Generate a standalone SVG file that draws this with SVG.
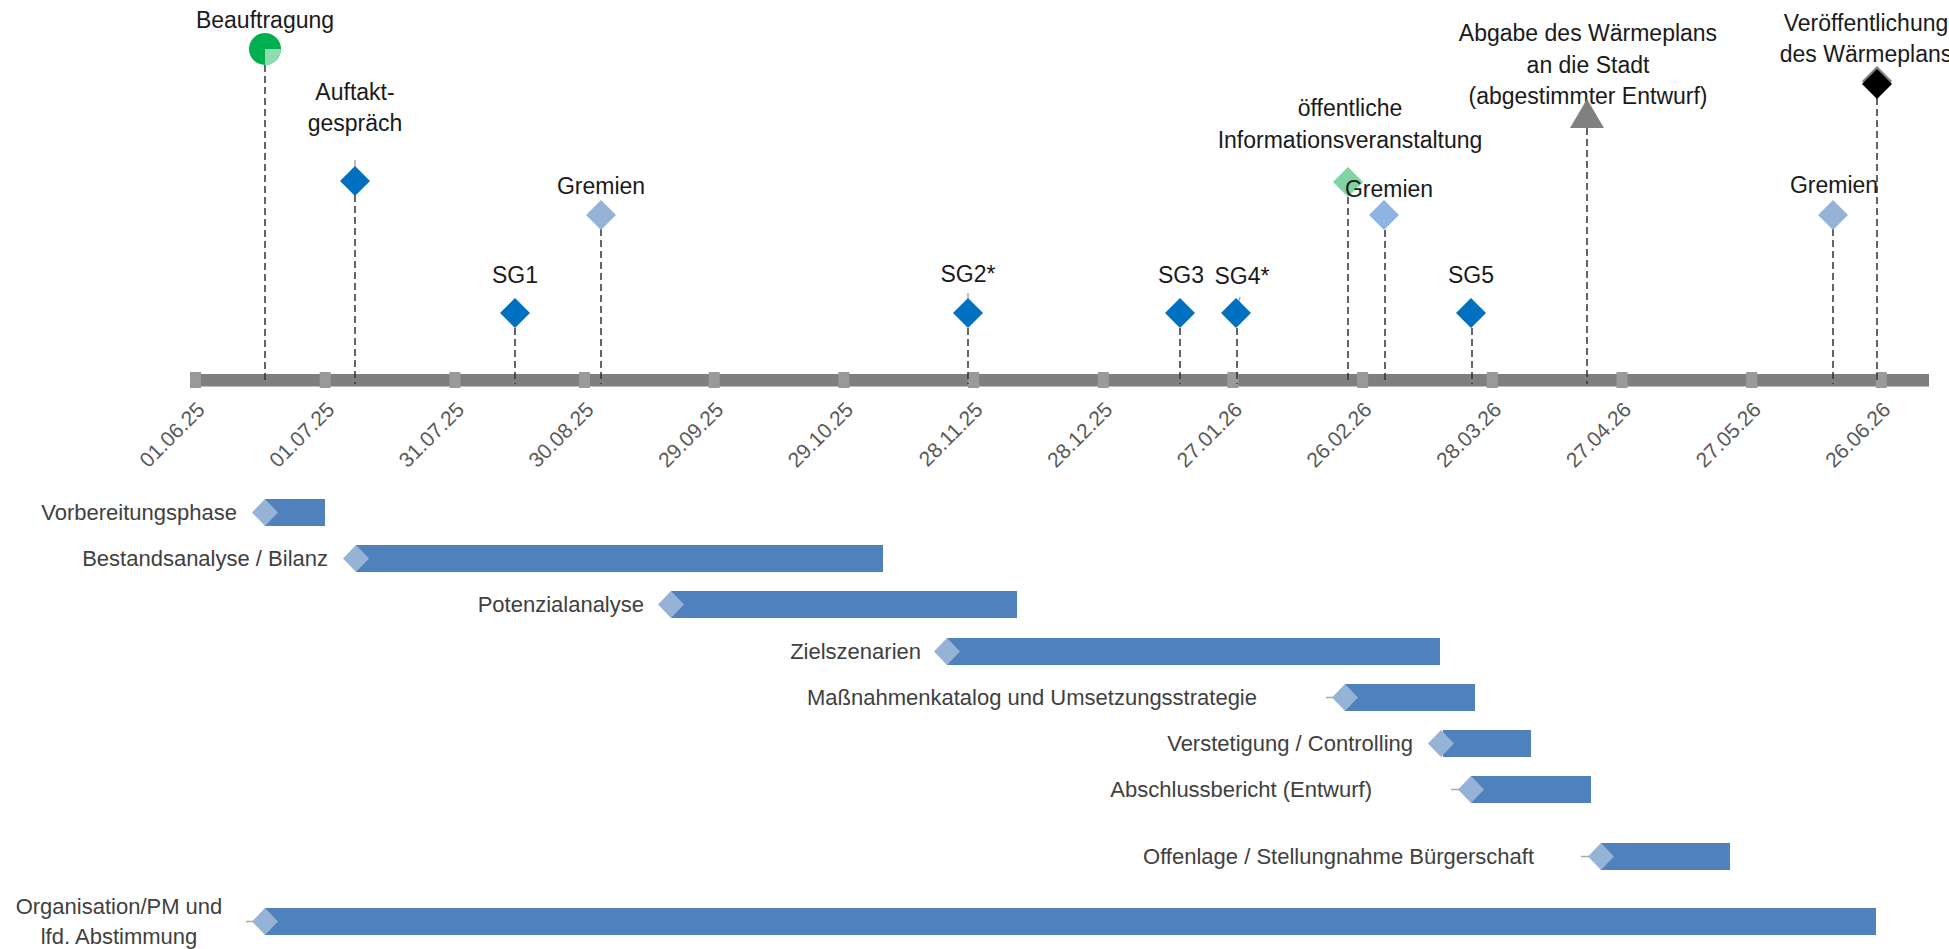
<svg xmlns="http://www.w3.org/2000/svg" width="1949" height="949" viewBox="0 0 1949 949">
<style>
.top{font-family:"Liberation Sans",Arial,sans-serif;font-size:23px;fill:#1a1a1a;text-anchor:middle}
.lbl{font-family:"Liberation Sans",Arial,sans-serif;font-size:22px;fill:#404040;text-anchor:end}
.date{font-family:"Liberation Sans",Arial,sans-serif;font-size:21px;fill:#595959;text-anchor:end}
.dash{stroke:#333;stroke-width:1.5;stroke-dasharray:7 4;fill:none}
.stub{stroke:#aaa;stroke-width:1.5}
.ms{fill:#0070c0}
.gr{fill:#95b3d7}
.bar{fill:#4f81bd}
.cap{fill:#95b3d7}
.tick{fill:#9a9a9a}
</style>
<rect width="1949" height="949" fill="#fff"/>

<g id="axis">
<rect x="190" y="374" width="1739" height="12.5" fill="#7f7f7f"/>
<rect class="tick" x="190" y="372" width="11" height="16"/>
<rect class="tick" x="319.7" y="372" width="11" height="16"/>
<rect class="tick" x="449.4" y="372" width="11" height="16"/>
<rect class="tick" x="579" y="372" width="11" height="16"/>
<rect class="tick" x="708.7" y="372" width="11" height="16"/>
<rect class="tick" x="838.4" y="372" width="11" height="16"/>
<rect class="tick" x="968.1" y="372" width="11" height="16"/>
<rect class="tick" x="1097.8" y="372" width="11" height="16"/>
<rect class="tick" x="1227.4" y="372" width="11" height="16"/>
<rect class="tick" x="1357.1" y="372" width="11" height="16"/>
<rect class="tick" x="1486.8" y="372" width="11" height="16"/>
<rect class="tick" x="1616.5" y="372" width="11" height="16"/>
<rect class="tick" x="1746.2" y="372" width="11" height="16"/>
<rect class="tick" x="1875.8" y="372" width="11" height="16"/>
<text class="date" transform="translate(206,411) rotate(-45)">01.06.25</text>
<text class="date" transform="translate(335.7,411) rotate(-45)">01.07.25</text>
<text class="date" transform="translate(465.4,411) rotate(-45)">31.07.25</text>
<text class="date" transform="translate(595,411) rotate(-45)">30.08.25</text>
<text class="date" transform="translate(724.7,411) rotate(-45)">29.09.25</text>
<text class="date" transform="translate(854.4,411) rotate(-45)">29.10.25</text>
<text class="date" transform="translate(984.1,411) rotate(-45)">28.11.25</text>
<text class="date" transform="translate(1113.8,411) rotate(-45)">28.12.25</text>
<text class="date" transform="translate(1243.4,411) rotate(-45)">27.01.26</text>
<text class="date" transform="translate(1373.1,411) rotate(-45)">26.02.26</text>
<text class="date" transform="translate(1502.8,411) rotate(-45)">28.03.26</text>
<text class="date" transform="translate(1632.5,411) rotate(-45)">27.04.26</text>
<text class="date" transform="translate(1762.2,411) rotate(-45)">27.05.26</text>
<text class="date" transform="translate(1891.8,411) rotate(-45)">26.06.26</text>
</g>

<g id="connectors">
<line class="dash" x1="265" y1="65" x2="265" y2="384"/>
<line class="dash" x1="355" y1="195" x2="355" y2="384"/>
<line class="dash" x1="515" y1="328" x2="515" y2="384"/>
<line class="dash" x1="601" y1="229" x2="601" y2="384"/>
<line class="dash" x1="968" y1="328" x2="968" y2="384"/>
<line class="dash" x1="1180" y1="328" x2="1180" y2="384"/>
<line class="dash" x1="1237" y1="328" x2="1237" y2="384"/>
<line class="dash" x1="1348" y1="197" x2="1348" y2="384"/>
<line class="dash" x1="1385" y1="230" x2="1385" y2="384"/>
<line class="dash" x1="1472" y1="328" x2="1472" y2="384"/>
<line class="dash" x1="1587" y1="128" x2="1587" y2="384"/>
<line class="dash" x1="1833" y1="229" x2="1833" y2="384"/>
<line class="dash" x1="1877" y1="98" x2="1877" y2="384"/>
<line class="stub" x1="355" y1="160" x2="355" y2="181"/>
<line class="stub" x1="968" y1="293" x2="968" y2="313"/>
<line class="stub" x1="1240" y1="297" x2="1235" y2="315"/>
</g>

<g id="beauftragung">
<text class="top" x="265" y="28">Beauftragung</text>
<circle cx="265" cy="49" r="16" fill="#00b050"/>
<path d="M265,49 L281,49 A16,16 0 0 1 265,65 Z" fill="#8fdcb0"/>
</g>
<g id="auftakt">
<text class="top" x="355" y="100">Auftakt-</text>
<text class="top" x="355" y="131">gespräch</text>
<polygon class="ms" points="355,166 370,181 355,196 340,181"/>
</g>
<g id="sg1">
<text class="top" x="515" y="283">SG1</text>
<polygon class="ms" points="515,298 530,313 515,328 500,313"/>
</g>
<g id="gremien1">
<text class="top" x="601" y="194">Gremien</text>
<polygon class="gr" points="601,200 616,215 601,230 586,215"/>
</g>
<g id="sg2">
<text class="top" x="968" y="282">SG2*</text>
<polygon class="ms" points="968,298 983,313 968,328 953,313"/>
</g>
<g id="sg3">
<text class="top" x="1181" y="283">SG3</text>
<polygon class="ms" points="1180,298 1195,313 1180,328 1165,313"/>
</g>
<g id="sg4">
<text class="top" x="1242" y="284">SG4*</text>
<polygon class="ms" points="1236,298 1251,313 1236,328 1221,313"/>
</g>
<g id="info">
<text class="top" x="1350" y="116">öffentliche</text>
<text class="top" x="1350" y="148">Informationsveranstaltung</text>
<polygon points="1348,167 1363,182 1348,197 1333,182" fill="#7fd4a2"/>
</g>
<g id="gremien2">
<polygon points="1384,200 1399,215 1384,230 1369,215" fill="#8db4e2"/>
<text class="top" x="1389" y="197">Gremien</text>
</g>
<g id="sg5">
<text class="top" x="1471" y="283">SG5</text>
<polygon class="ms" points="1471,298 1486,313 1471,328 1456,313"/>
</g>
<g id="abgabe">
<text class="top" x="1588" y="41">Abgabe des Wärmeplans</text>
<text class="top" x="1588" y="73">an die Stadt</text>
<text class="top" x="1588" y="104">(abgestimmter Entwurf)</text>
<polygon points="1587,99 1604,128 1570,128" fill="#808080"/>
</g>
<g id="gremien3">
<text class="top" x="1834" y="193">Gremien</text>
<polygon class="gr" points="1833,200 1848,215 1833,230 1818,215"/>
</g>
<g id="veroeffentlichung">
<text class="top" x="1866" y="31">Veröffentlichung</text>
<text class="top" x="1866" y="62">des Wärmeplans</text>
<polygon points="1877,66 1892,81 1877,96 1862,81" fill="#808080"/>
<polygon points="1877,69 1892,84 1877,99 1862,84" fill="#000"/>
</g>

<g id="bar-vorbereitung">
<text class="lbl" x="237" y="520">Vorbereitungsphase</text>
<rect class="bar" x="265" y="499" width="60" height="27"/>
<polygon class="cap" points="252,512.5 265,499 278,512.5 265,526"/>
</g>
<g id="bar-bestand">
<text class="lbl" x="328" y="566">Bestandsanalyse / Bilanz</text>
<rect class="bar" x="356" y="545" width="527" height="27"/>
<polygon class="cap" points="343,558.5 356,545 369,558.5 356,572"/>
</g>
<g id="bar-potenzial">
<text class="lbl" x="644" y="612">Potenzialanalyse</text>
<rect class="bar" x="671" y="591" width="346" height="27"/>
<polygon class="cap" points="658,604.5 671,591 684,604.5 671,618"/>
</g>
<g id="bar-ziel">
<text class="lbl" x="921" y="659">Zielszenarien</text>
<rect class="bar" x="947" y="638" width="493" height="27"/>
<polygon class="cap" points="934,651.5 947,638 960,651.5 947,665"/>
</g>
<g id="bar-massnahmen">
<text class="lbl" x="1257" y="705">Maßnahmenkatalog und Umsetzungsstrategie</text>
<line class="stub" x1="1326" y1="697.5" x2="1340" y2="697.5"/>
<rect class="bar" x="1345" y="684" width="130" height="27"/>
<polygon class="cap" points="1332,697.5 1345,684 1358,697.5 1345,711"/>
</g>
<g id="bar-verstetigung">
<text class="lbl" x="1413" y="751">Verstetigung / Controlling</text>
<rect class="bar" x="1443" y="730" width="88" height="27"/>
<polygon class="cap" points="1428,743.5 1441,730 1454,743.5 1441,757"/>
</g>
<g id="bar-abschluss">
<text class="lbl" x="1372" y="797">Abschlussbericht (Entwurf)</text>
<line class="stub" x1="1451" y1="789.5" x2="1465" y2="789.5"/>
<rect class="bar" x="1471" y="776" width="120" height="27"/>
<polygon class="cap" points="1458,789.5 1471,776 1484,789.5 1471,803"/>
</g>
<g id="bar-offenlage">
<text class="lbl" x="1534" y="864">Offenlage / Stellungnahme Bürgerschaft</text>
<line class="stub" x1="1581" y1="856.5" x2="1595" y2="856.5"/>
<rect class="bar" x="1601" y="843" width="129" height="27"/>
<polygon class="cap" points="1588,856.5 1601,843 1614,856.5 1601,870"/>
</g>
<g id="bar-organisation">
<text class="lbl" x="119" y="914" style="text-anchor:middle">Organisation/PM und</text>
<text class="lbl" x="119" y="944" style="text-anchor:middle">lfd. Abstimmung</text>
<line class="stub" x1="246" y1="921.5" x2="259" y2="921.5"/>
<rect class="bar" x="265" y="908" width="1611" height="27"/>
<polygon class="cap" points="252,921.5 265,908 278,921.5 265,935"/>
</g>
</svg>
